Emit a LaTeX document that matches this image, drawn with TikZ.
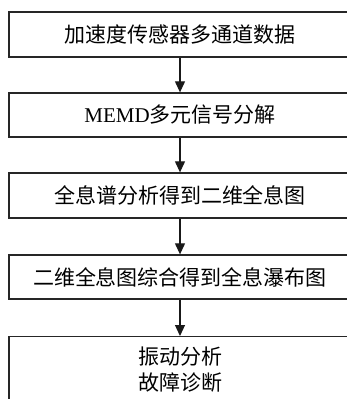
\documentclass[tikz,border=0pt]{standalone}
\usepackage{fontspec}
\setmainfont{Liberation Serif}
\newfontfamily\cjk{Noto Sans CJK SC}
\usetikzlibrary{arrows.meta}
\begin{document}
\begin{tikzpicture}[x=1pt,y=-1pt,
  stepbox/.style={draw=black!85,line width=1.3pt,minimum width=342pt,inner sep=0pt,font=\fontsize{21}{26}\selectfont\cjk,align=center},
  conn/.style={draw=black!90,line width=1.1pt,-{Triangle[length=11pt,width=10pt]}}]
\clip (0,0) rectangle (347,399);
\fill[white] (0,0) rectangle (347,399);
\node[stepbox,minimum height=45pt] (b1) at (180,34.5) {加速度传感器多通道数据};
\node[stepbox,minimum height=44pt] (b2) at (180,115) {{\fontspec{Liberation Serif}MEMD}多元信号分解};
\node[stepbox,minimum height=45pt] (b3) at (180,195.5) {全息谱分析得到二维全息图};
\node[stepbox,minimum height=44pt] (b4) at (180,277) {二维全息图综合得到全息瀑布图};
\node[stepbox,minimum height=76pt,anchor=north] (b5) at (180,336) {};
\node[font=\fontsize{21}{26}\selectfont\cjk,align=center] (t5) at (180,370) {振动分析\\故障诊断};
\draw[conn] (b1.south) -- (b2.north);
\draw[conn] (b2.south) -- (b3.north);
\draw[conn] (b3.south) -- (b4.north);
\draw[conn] (b4.south) -- (b5.north);
\end{tikzpicture}
\end{document}
